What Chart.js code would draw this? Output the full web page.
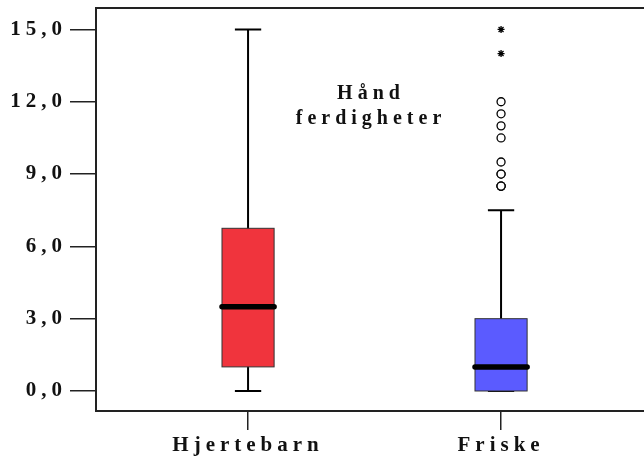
<!DOCTYPE html>
<html><head><meta charset="utf-8">
<script src="https://cdn.jsdelivr.net/npm/chart.js@4.4.1/dist/chart.umd.min.js"></script>
<style>html,body{margin:0;padding:0;background:#fff}canvas{display:block}</style>
</head><body>
<canvas id="c" width="644" height="461"></canvas>
<script>
// Box plot summary per group
const categories = ['Hjertebarn', 'Friske'];
const whiskerLow = [0, 0];
const quartile1 = [1.0, 0];
const medians = [3.5, 1.0];
const quartile3 = [6.75, 3.0];
const whiskerHigh = [15, 7.5];
// Points beyond the whiskers (Friske only)
const outliersFriske = [12, 11.5, 11, 10.5, 9.5, 9, 9, 8.5, 8.5, 8.5];
const extremesFriske = [15, 14];
const yTicks = [0, 3, 6, 9, 12, 15];
const titleLines = ['Hånd', 'ferdigheter'];
const boxColors = ['#f0343d', '#5b5bff'];

const SERIF = '"Liberation Serif", "Times New Roman", serif';
const BOX_HALF = 0.103;   // half box width, x units
const CAP_HALF = 0.052;   // half whisker cap width, x units

const noScalePadding = s => { s.paddingTop = 0; s.paddingBottom = 0; s.paddingLeft = 0; s.paddingRight = 0; };

const boxPlugin = {
  id: 'boxes',
  beforeDraw(chart) {
    chart.ctx.save();
    chart.ctx.letterSpacing = '5px';
  },
  beforeDatasetsDraw(chart) {
    const ctx = chart.ctx, xs = chart.scales.x, ys = chart.scales.y;
    categories.forEach((c, i) => {
      const xv = i + 1;
      const xc = xs.getPixelForValue(xv);
      const xl = xs.getPixelForValue(xv - BOX_HALF), xr = xs.getPixelForValue(xv + BOX_HALF);
      const cl = xs.getPixelForValue(xv - CAP_HALF), cr = xs.getPixelForValue(xv + CAP_HALF);
      const yLo = ys.getPixelForValue(whiskerLow[i]), yHi = ys.getPixelForValue(whiskerHigh[i]);
      const y1 = ys.getPixelForValue(quartile1[i]), y3 = ys.getPixelForValue(quartile3[i]);
      const ym = ys.getPixelForValue(medians[i]);
      ctx.save();
      ctx.strokeStyle = '#000';
      ctx.lineWidth = 2;
      ctx.beginPath();
      ctx.moveTo(xc, yLo); ctx.lineTo(xc, yHi);
      ctx.moveTo(cl, yLo); ctx.lineTo(cr, yLo);
      ctx.moveTo(cl, yHi); ctx.lineTo(cr, yHi);
      ctx.stroke();
      ctx.fillStyle = boxColors[i];
      ctx.fillRect(xl, y3, xr - xl, y1 - y3);
      ctx.lineWidth = 1;
      ctx.strokeStyle = '#333';
      ctx.strokeRect(xl, y3, xr - xl, y1 - y3);
      ctx.strokeStyle = '#000';
      ctx.lineWidth = 5.5;
      ctx.lineCap = 'round';
      ctx.beginPath();
      ctx.moveTo(xl, ym); ctx.lineTo(xr, ym);
      ctx.stroke();
      ctx.restore();
    });
  },
  afterDraw(chart) {
    const ctx = chart.ctx, a = chart.chartArea;
    // top frame line
    ctx.save();
    ctx.strokeStyle = '#222';
    ctx.lineWidth = 2;
    ctx.beginPath();
    ctx.moveTo(a.left, a.top); ctx.lineTo(a.right, a.top);
    ctx.stroke();
    // in-plot title
    ctx.fillStyle = '#111';
    ctx.font = 'bold 20px ' + SERIF;
    ctx.textAlign = 'center';
    ctx.textBaseline = 'alphabetic';
    ctx.fillText(titleLines[0], 371, 99);
    ctx.fillText(titleLines[1], 371, 124);
    ctx.restore();
    ctx.restore();
  }
};

new Chart(document.getElementById('c'), {
  type: 'scatter',
  data: {
    datasets: [
      {
        data: outliersFriske.map(v => ({ x: 2, y: v })),
        pointStyle: 'circle', pointRadius: 4,
        borderColor: '#000', backgroundColor: '#fff', borderWidth: 1.3
      },
      {
        data: extremesFriske.map(v => ({ x: 2, y: v })),
        pointStyle: 'star', pointRadius: 3.5,
        borderColor: '#000', backgroundColor: '#000', borderWidth: 1.3
      }
    ]
  },
  options: {
    responsive: false,
    animation: false,
    layout: { autoPadding: false, padding: { top: 8, right: 0, left: 0, bottom: 0 } },
    plugins: { legend: { display: false }, tooltip: { enabled: false } },
    scales: {
      x: {
        type: 'linear', min: 0.399, max: 2.565,
        afterBuildTicks: s => { s.ticks = [{ value: 1 }, { value: 2 }]; },
        afterFit: s => { s.height = 50; noScalePadding(s); },
        ticks: {
          callback: v => categories[v - 1],
          font: { family: SERIF, size: 21, weight: 'bold' },
          color: '#111', padding: 3, maxRotation: 0, autoSkip: false
        },
        grid: { drawOnChartArea: false, tickLength: 19, color: '#222', lineWidth: 1.5 },
        border: { color: '#222', width: 2 }
      },
      y: {
        min: -0.83, max: 15.89,
        afterBuildTicks: s => { s.ticks = yTicks.map(v => ({ value: v })); },
        afterFit: s => { s.width = 96; noScalePadding(s); },
        ticks: {
          callback: v => v.toFixed(1).replace('.', ','),
          font: { family: SERIF, size: 21, weight: 'bold' },
          color: '#111', padding: 3
        },
        grid: { drawOnChartArea: false, tickLength: 26, color: '#222', lineWidth: 1.5 },
        border: { color: '#222', width: 2 }
      }
    }
  },
  plugins: [boxPlugin]
});
</script>
</body></html>
